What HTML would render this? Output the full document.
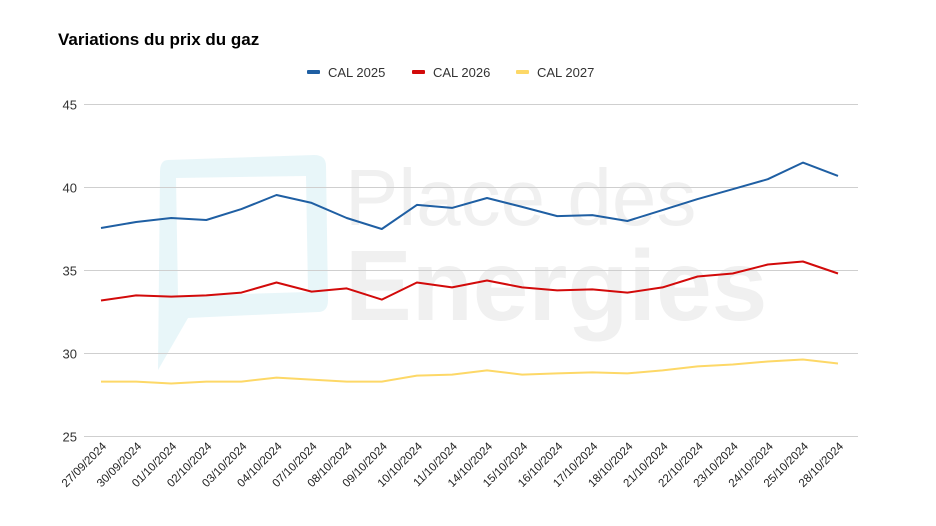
<!DOCTYPE html>
<html><head><meta charset="utf-8">
<style>
html,body{margin:0;padding:0;background:#fff;}
svg{display:block;font-family:"Liberation Sans",Arial,sans-serif;}
</style></head>
<body>
<svg id="chart" width="936" height="526" viewBox="0 0 936 526" xmlns="http://www.w3.org/2000/svg">
  <rect width="936" height="526" fill="#fff"/>
  <g>
    <path d="M168 160 Q160 160 160 172 L158 370 L188 318 L318 312 Q328 312 328 300 L326 166 Q326 155 314 155 Z M176 178 L306 176 L308 292 L178 296 Z" fill="#e4f4f8" fill-rule="evenodd" opacity="0.85"/>
    <text x="345" y="225" font-size="80" fill="#f0f0f0">Place des</text>
    <text x="345" y="320" font-size="100" font-weight="bold" fill="#f0f0f0">Energies</text>
  </g>
  <text x="58" y="45" font-size="17" font-weight="bold" fill="#000">Variations du prix du gaz</text>
  <g id="legend"></g>
  <g id="grid"></g>
  <g id="xlabels"></g>
  <g id="series"></g>
</svg>
<script>
const dates = ["27/09/2024","30/09/2024","01/10/2024","02/10/2024","03/10/2024","04/10/2024","07/10/2024","08/10/2024","09/10/2024","10/10/2024","11/10/2024","14/10/2024","15/10/2024","16/10/2024","17/10/2024","18/10/2024","21/10/2024","22/10/2024","23/10/2024","24/10/2024","25/10/2024","28/10/2024"];
const cal2025 = [37.56,37.92,38.16,38.04,38.7,39.55,39.07,38.16,37.5,38.95,38.77,39.37,38.83,38.28,38.34,37.98,38.64,39.3,39.9,40.5,41.5,40.7];
const cal2026 = [33.19,33.5,33.43,33.5,33.67,34.28,33.73,33.92,33.25,34.28,33.98,34.4,33.98,33.8,33.86,33.67,33.98,34.64,34.82,35.36,35.54,34.82];
const cal2027 = [28.31,28.31,28.19,28.31,28.31,28.55,28.43,28.31,28.31,28.67,28.73,28.98,28.73,28.8,28.86,28.8,28.98,29.22,29.34,29.52,29.64,29.4];
const yTicks = [25,30,35,40,45];
const seriesNames = ["CAL 2025","CAL 2026","CAL 2027"];
const seriesColors = ["#1f5fa3","#d20a0a","#fdd867"];

const NS = "http://www.w3.org/2000/svg";
const x0 = 101, x1 = 838;
function xScale(i){ return x0 + i*(x1-x0)/(dates.length-1); }
function yScale(v){ return 187.5 - (v-40)*16.6; }
function mk(tag, attrs, parent){ const e=document.createElementNS(NS,tag); for(const k in attrs) e.setAttribute(k,attrs[k]); parent.appendChild(e); return e; }

const grid = document.getElementById("grid");
yTicks.forEach(t=>{
  const y = yScale(t);
  const l = mk("line",{x1:84,x2:858,y1:y,y2:y,stroke:"#cfcfcf","stroke-width":1},grid);
  
  
  const tx = mk("text",{x:77,y:y+5,"text-anchor":"end","font-size":13,fill:"#333"},grid);
  tx.textContent = t;
  
  
});

const xl = document.getElementById("xlabels");
dates.forEach((d,i)=>{
  const x = xScale(i)+6, y = 447;
  const t = mk("text",{x:x,y:y,"text-anchor":"end","font-size":11.5,fill:"#222",transform:`rotate(-45 ${x} ${y})`},xl);
  t.textContent = d;
  
  
});

const sg = document.getElementById("series");
[cal2025,cal2026,cal2027].slice().reverse().forEach((arr,ri)=>{
  const si = 2-ri;
  const pts = arr.map((v,i)=>xScale(i).toFixed(1)+","+yScale(v).toFixed(1)).join(" ");
  const p = mk("polyline",{points:pts,fill:"none",stroke:seriesColors[si],"stroke-width":2,"stroke-linejoin":"round"},sg);
  
  
});

const lg = document.getElementById("legend");
const lx = [307,412,516];
seriesNames.forEach((n,i)=>{
  const g = mk("g",{},lg);
  
  
  mk("rect",{x:lx[i],y:70,width:13,height:4,rx:1,fill:seriesColors[i]},g);
  const t = mk("text",{x:lx[i]+21,y:77,"font-size":13,fill:"#333"},g);
  t.textContent = n;
});
</script>
</body></html>
